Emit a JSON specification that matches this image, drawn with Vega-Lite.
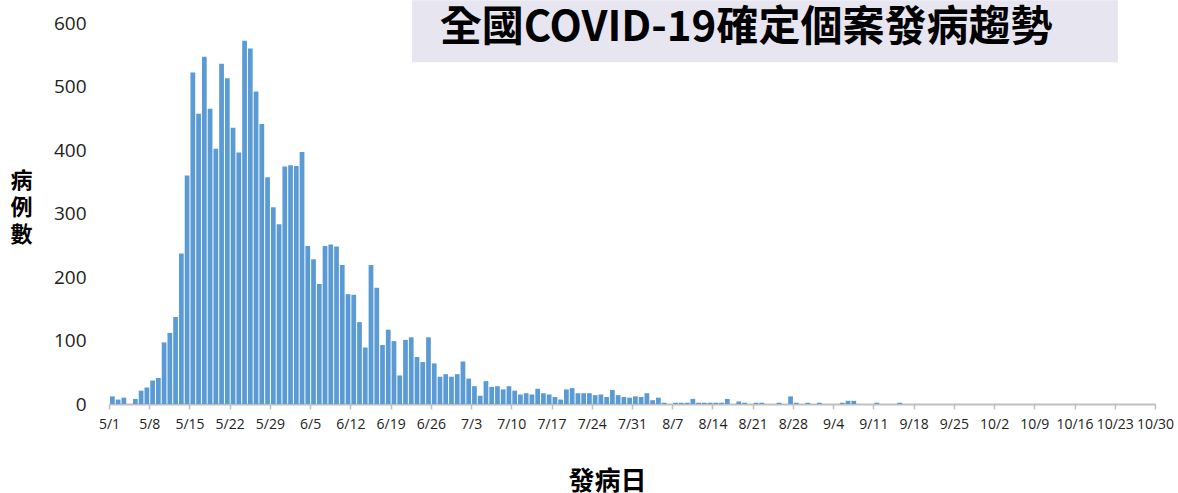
{
  "$schema": "https://vega.github.io/schema/vega-lite/v6.json",
  "autosize": {"type": "none"},
  "padding": {"left": 109, "top": 23, "right": 23, "bottom": 89},
  "width": 1046,
  "height": 381,
  "background": "white",
  "config": {"view": {"stroke": null}},
  "datasets": {
    "cases": [
      {"date": "2021-05-01", "cases": 12}, {"date": "2021-05-02", "cases": 7}, {"date": "2021-05-03", "cases": 10},
      {"date": "2021-05-05", "cases": 8}, {"date": "2021-05-06", "cases": 21}, {"date": "2021-05-07", "cases": 26},
      {"date": "2021-05-08", "cases": 37}, {"date": "2021-05-09", "cases": 41}, {"date": "2021-05-10", "cases": 97},
      {"date": "2021-05-11", "cases": 112}, {"date": "2021-05-12", "cases": 137}, {"date": "2021-05-13", "cases": 237},
      {"date": "2021-05-14", "cases": 360}, {"date": "2021-05-15", "cases": 522}, {"date": "2021-05-16", "cases": 457},
      {"date": "2021-05-17", "cases": 547}, {"date": "2021-05-18", "cases": 465}, {"date": "2021-05-19", "cases": 402},
      {"date": "2021-05-20", "cases": 536}, {"date": "2021-05-21", "cases": 513}, {"date": "2021-05-22", "cases": 435},
      {"date": "2021-05-23", "cases": 396}, {"date": "2021-05-24", "cases": 572}, {"date": "2021-05-25", "cases": 560},
      {"date": "2021-05-26", "cases": 492}, {"date": "2021-05-27", "cases": 441}, {"date": "2021-05-28", "cases": 357},
      {"date": "2021-05-29", "cases": 310}, {"date": "2021-05-30", "cases": 283}, {"date": "2021-05-31", "cases": 374},
      {"date": "2021-06-01", "cases": 376}, {"date": "2021-06-02", "cases": 375}, {"date": "2021-06-03", "cases": 397},
      {"date": "2021-06-04", "cases": 249}, {"date": "2021-06-05", "cases": 228}, {"date": "2021-06-06", "cases": 189},
      {"date": "2021-06-07", "cases": 249}, {"date": "2021-06-08", "cases": 251}, {"date": "2021-06-09", "cases": 248},
      {"date": "2021-06-10", "cases": 219}, {"date": "2021-06-11", "cases": 173}, {"date": "2021-06-12", "cases": 172},
      {"date": "2021-06-13", "cases": 129}, {"date": "2021-06-14", "cases": 89}, {"date": "2021-06-15", "cases": 219},
      {"date": "2021-06-16", "cases": 183}, {"date": "2021-06-17", "cases": 93}, {"date": "2021-06-18", "cases": 117},
      {"date": "2021-06-19", "cases": 99}, {"date": "2021-06-20", "cases": 45}, {"date": "2021-06-21", "cases": 101},
      {"date": "2021-06-22", "cases": 105}, {"date": "2021-06-23", "cases": 74}, {"date": "2021-06-24", "cases": 66},
      {"date": "2021-06-25", "cases": 105}, {"date": "2021-06-26", "cases": 64}, {"date": "2021-06-27", "cases": 43},
      {"date": "2021-06-28", "cases": 47}, {"date": "2021-06-29", "cases": 43}, {"date": "2021-06-30", "cases": 47},
      {"date": "2021-07-01", "cases": 67}, {"date": "2021-07-02", "cases": 40}, {"date": "2021-07-03", "cases": 28},
      {"date": "2021-07-04", "cases": 13}, {"date": "2021-07-05", "cases": 36}, {"date": "2021-07-06", "cases": 27},
      {"date": "2021-07-07", "cases": 28}, {"date": "2021-07-08", "cases": 23}, {"date": "2021-07-09", "cases": 28},
      {"date": "2021-07-10", "cases": 21}, {"date": "2021-07-11", "cases": 15}, {"date": "2021-07-12", "cases": 17},
      {"date": "2021-07-13", "cases": 15}, {"date": "2021-07-14", "cases": 24}, {"date": "2021-07-15", "cases": 17},
      {"date": "2021-07-16", "cases": 15}, {"date": "2021-07-17", "cases": 11}, {"date": "2021-07-18", "cases": 7},
      {"date": "2021-07-19", "cases": 23}, {"date": "2021-07-20", "cases": 25}, {"date": "2021-07-21", "cases": 17},
      {"date": "2021-07-22", "cases": 17}, {"date": "2021-07-23", "cases": 17}, {"date": "2021-07-24", "cases": 14},
      {"date": "2021-07-25", "cases": 15}, {"date": "2021-07-26", "cases": 11}, {"date": "2021-07-27", "cases": 22},
      {"date": "2021-07-28", "cases": 14}, {"date": "2021-07-29", "cases": 11}, {"date": "2021-07-30", "cases": 10},
      {"date": "2021-07-31", "cases": 12}, {"date": "2021-08-01", "cases": 11}, {"date": "2021-08-02", "cases": 17},
      {"date": "2021-08-03", "cases": 6}, {"date": "2021-08-04", "cases": 10}, {"date": "2021-08-05", "cases": 2},
      {"date": "2021-08-07", "cases": 2}, {"date": "2021-08-08", "cases": 2}, {"date": "2021-08-09", "cases": 2},
      {"date": "2021-08-10", "cases": 8}, {"date": "2021-08-11", "cases": 2}, {"date": "2021-08-12", "cases": 2},
      {"date": "2021-08-13", "cases": 2}, {"date": "2021-08-14", "cases": 2}, {"date": "2021-08-15", "cases": 2},
      {"date": "2021-08-16", "cases": 8}, {"date": "2021-08-18", "cases": 4}, {"date": "2021-08-19", "cases": 2},
      {"date": "2021-08-21", "cases": 2}, {"date": "2021-08-22", "cases": 2}, {"date": "2021-08-25", "cases": 2},
      {"date": "2021-08-27", "cases": 12}, {"date": "2021-08-28", "cases": 2}, {"date": "2021-08-30", "cases": 2},
      {"date": "2021-09-01", "cases": 2}, {"date": "2021-09-05", "cases": 2}, {"date": "2021-09-06", "cases": 5},
      {"date": "2021-09-07", "cases": 5}, {"date": "2021-09-11", "cases": 2}, {"date": "2021-09-15", "cases": 2}
    ],
    "banner": [
      {"title": "全國COVID-19確定個案發病趨勢", "left": "2021-06-22T17:20:00Z", "right": "2021-10-23T13:40:00Z", "mid": "2021-08-19T20:10:00Z", "top": 636, "bottom": 538, "center": 592}
    ]
  },
  "layer": [
    {
      "data": {"name": "banner"},
      "mark": {"type": "rect", "color": "#E7E6F0"},
      "encoding": {
        "x": {"field": "left", "type": "temporal"},
        "x2": {"field": "right"},
        "y": {"field": "top", "type": "quantitative"},
        "y2": {"field": "bottom"}
      }
    },
    {
      "data": {"name": "banner"},
      "mark": {"type": "text", "font": "Noto Sans CJK TC", "fontSize": 42, "fontWeight": "bold", "color": "#000000", "align": "center", "baseline": "middle"},
      "encoding": {
        "text": {"field": "title"},
        "x": {"field": "mid", "type": "temporal"},
        "y": {"field": "center", "type": "quantitative"}
      }
    },
    {
      "data": {"name": "cases"},
      "mark": {"type": "bar", "color": "#5B9BD5", "timeUnitBandSize": 0.72},
      "encoding": {
        "x": {
          "field": "date",
          "timeUnit": "utcyearmonthdate",
          "type": "temporal",
          "scale": {"type": "utc", "domain": [{"year": 2021, "month": 5, "date": 1, "utc": true}, {"year": 2021, "month": 10, "date": 30, "utc": true}], "nice": false},
          "axis": {
            "values": [
              {"year": 2021, "month": 5, "date": 1, "utc": true}, {"year": 2021, "month": 5, "date": 8, "utc": true},
              {"year": 2021, "month": 5, "date": 15, "utc": true}, {"year": 2021, "month": 5, "date": 22, "utc": true},
              {"year": 2021, "month": 5, "date": 29, "utc": true}, {"year": 2021, "month": 6, "date": 5, "utc": true},
              {"year": 2021, "month": 6, "date": 12, "utc": true}, {"year": 2021, "month": 6, "date": 19, "utc": true},
              {"year": 2021, "month": 6, "date": 26, "utc": true}, {"year": 2021, "month": 7, "date": 3, "utc": true},
              {"year": 2021, "month": 7, "date": 10, "utc": true}, {"year": 2021, "month": 7, "date": 17, "utc": true},
              {"year": 2021, "month": 7, "date": 24, "utc": true}, {"year": 2021, "month": 7, "date": 31, "utc": true},
              {"year": 2021, "month": 8, "date": 7, "utc": true}, {"year": 2021, "month": 8, "date": 14, "utc": true},
              {"year": 2021, "month": 8, "date": 21, "utc": true}, {"year": 2021, "month": 8, "date": 28, "utc": true},
              {"year": 2021, "month": 9, "date": 4, "utc": true}, {"year": 2021, "month": 9, "date": 11, "utc": true},
              {"year": 2021, "month": 9, "date": 18, "utc": true}, {"year": 2021, "month": 9, "date": 25, "utc": true},
              {"year": 2021, "month": 10, "date": 2, "utc": true}, {"year": 2021, "month": 10, "date": 9, "utc": true},
              {"year": 2021, "month": 10, "date": 16, "utc": true}, {"year": 2021, "month": 10, "date": 23, "utc": true},
              {"year": 2021, "month": 10, "date": 30, "utc": true}
            ],
            "format": "%-m/%-d",
            "labelFont": "Open Sans",
            "labelFontSize": 14,
            "labelColor": "#222222",
            "labelPadding": 8,
            "labelOverlap": false,
            "labelFlush": false,
            "grid": false,
            "domainColor": "#BFBFBF",
            "domainWidth": 2,
            "tickColor": "#BFBFBF",
            "tickSize": 5,
            "tickWidth": 1.5,
            "title": "發病日",
            "titleFont": "Noto Sans CJK TC",
            "titleFontSize": 26,
            "titleFontWeight": "bold",
            "titleColor": "#000000",
            "titleX": 498,
            "titleY": 77,
            "titleAlign": "center",
            "titleBaseline": "middle"
          }
        },
        "y": {
          "field": "cases",
          "type": "quantitative",
          "scale": {"domain": [0, 600], "nice": false},
          "axis": {
            "values": [0, 100, 200, 300, 400, 500, 600],
            "labelFont": "Open Sans",
            "labelFontSize": 19,
            "labelColor": "#222222",
            "labelPadding": 23,
            "ticks": false,
            "tickSize": 0,
            "domain": false,
            "grid": false,
            "title": ["病", "例", "數"],
            "titleFont": "Noto Sans CJK TC",
            "titleFontSize": 22,
            "titleFontWeight": "bold",
            "titleColor": "#000000",
            "titleAngle": 0,
            "titleX": -88,
            "titleY": 157,
            "titleAlign": "center",
            "titleBaseline": "middle",
            "titleLineHeight": 27
          }
        }
      }
    }
  ]
}
